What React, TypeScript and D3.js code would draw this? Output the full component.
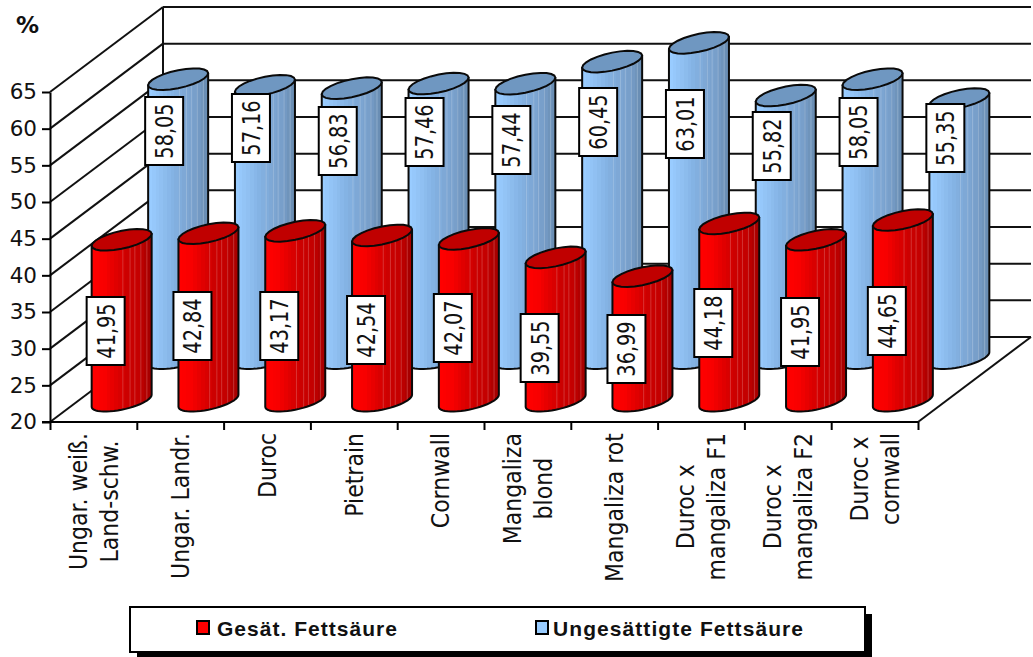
import * as d3 from 'd3'
import { useEffect, useRef } from 'react'

const categories = [
  ['Ungar. weiß.', 'Land-schw.'],
  ['Ungar. Landr.'],
  ['Duroc'],
  ['Pietrain'],
  ['Cornwall'],
  ['Mangaliza', 'blond'],
  ['Mangaliza rot'],
  ['Duroc x', 'mangaliza F1'],
  ['Duroc x', 'mangaliza F2'],
  ['Duroc x', 'cornwall'],
]
const saturated = [41.95, 42.84, 43.17, 42.54, 42.07, 39.55, 36.99, 44.18, 41.95, 44.65]
const unsaturated = [58.05, 57.16, 56.83, 57.46, 57.44, 60.45, 63.01, 55.82, 58.05, 55.35]
const valueTicks = [20, 25, 30, 35, 40, 45, 50, 55, 60, 65]

// labels were dragged by hand in the original, so their heights are not derived from the bars
const redLabelY = [331, 326, 326, 330, 328, 348, 349, 323, 332, 321]
const blueLabelY = [131, 128, 141, 132, 140, 122, 124, 146, 132, 138]

const comma = (v: number) => v.toFixed(2).replace('.', ',')
const FONT = '"DejaVu Sans Condensed", "DejaVu Sans", sans-serif'
const DEPTH_X = 113
const DEPTH_Y = 85

function drawChart(svgEl: SVGSVGElement) {
  const svg = d3.select(svgEl)
  svg.selectAll('*').remove()

  const y = d3.scaleLinear().domain([20, 65]).range([422, 92])
  const x = d3.scaleLinear().domain([0, categories.length]).range([50, 918])
  const step = x(1) - x(0)

  const defs = svg.append('defs')
  const gradient = (id: string, colors: string[]) => {
    const n = 16
    const color = d3.piecewise(d3.interpolateRgb, colors)
    const g = defs.append('linearGradient').attr('id', id)
    d3.range(n).forEach(i => {
      g.append('stop').attr('offset', i / n).attr('stop-color', color(i / (n - 1)))
      g.append('stop').attr('offset', (i + 1) / n).attr('stop-color', color(i / (n - 1)))
    })
  }
  gradient('redBody', ['#ff0000', '#f80000', '#e00000', '#cc0000', '#c40000', '#a80000'])
  gradient('blueBody', ['#99ccff', '#90c0f2', '#84b3e4', '#7ea8d6', '#789fca', '#6a8eb4'])

  // walls and floor
  const walls = svg.append('g').attr('stroke', '#111').attr('stroke-width', 2).attr('fill', 'none')
  valueTicks.forEach(v => {
    const a = y(v)
    walls.append('line').attr('x1', 50).attr('y1', a).attr('x2', 50 + DEPTH_X).attr('y2', a - DEPTH_Y)
    walls.append('line').attr('x1', 50 + DEPTH_X).attr('y1', a - DEPTH_Y)
      .attr('x2', 918 + DEPTH_X).attr('y2', a - DEPTH_Y)
  })
  walls.append('line').attr('x1', 50 + DEPTH_X).attr('y1', y(65) - DEPTH_Y)
    .attr('x2', 50 + DEPTH_X).attr('y2', y(20) - DEPTH_Y)
  walls.append('line').attr('x1', 918).attr('y1', y(20))
    .attr('x2', 918 + DEPTH_X).attr('y2', y(20) - DEPTH_Y)

  // cylinders, back row first
  const halfW = 30
  const slant = 6
  const ry = 9
  const rim = (cx: number, cy: number, from: number, to: number) =>
    d3.range(0, 25).map(i => {
      const t = from + (to - from) * i / 24
      return [cx + halfW * Math.cos(t), cy - slant * Math.cos(t) + ry * Math.sin(t)] as [number, number]
    })

  const drawRow = (values: number[], depth: number, fill: string, topFill: string, name: string) => {
    const row = svg.append('g')
    values.forEach((v, i) => {
      const cx = x(i) + step / 2 + depth * DEPTH_X
      const base = y(20) - depth * DEPTH_Y
      const top = y(v) - depth * DEPTH_Y
      const bodyPts: [number, number][] = [
        [cx + halfW, top - slant],
        [cx - halfW, top + slant],
        ...rim(cx, base, Math.PI, 0),
      ]
      const bodyPath = d3.line()(bodyPts) + 'Z'
      const clipId = name + 'Clip' + i
      defs.append('clipPath').attr('id', clipId).append('path').attr('d', bodyPath)
      const g = row.append('g')
      g.append('path').attr('d', bodyPath).attr('fill', `url(#${fill})`)
      const facets = g.append('g').attr('clip-path', `url(#${clipId})`)
      ;[0.52, 0.64, 0.72, 0.82, 0.92].forEach(f => {
        facets.append('line')
          .attr('x1', cx - halfW + f * 2 * halfW).attr('x2', cx - halfW + f * 2 * halfW)
          .attr('y1', top - 20).attr('y2', base + 20)
          .attr('stroke', '#fff').attr('stroke-opacity', 0.2).attr('stroke-width', 1)
      })
      g.append('path').attr('d', bodyPath).attr('fill', 'none')
        .attr('stroke', '#0a0a0a').attr('stroke-width', 2).attr('stroke-linejoin', 'round')
      g.append('path')
        .attr('d', d3.line()(rim(cx, top, 0, Math.PI * 2)) + 'Z')
        .attr('fill', topFill).attr('stroke', '#0a0a0a').attr('stroke-width', 2)
    })
  }
  drawRow(unsaturated, 0.75, 'blueBody', '#6f97c1', 'blue')
  drawRow(saturated, 0.25, 'redBody', '#c00000', 'red')

  // axes
  const axisY = svg.append('g').attr('transform', 'translate(50,0)')
    .call(d3.axisLeft(y).tickValues(valueTicks).tickSize(8).tickPadding(5).tickSizeOuter(0))
  const axisX = svg.append('g').attr('transform', 'translate(0,422)')
    .call(d3.axisBottom(x).tickValues(d3.range(categories.length + 1)).tickSize(8)
      .tickFormat(() => '').tickSizeOuter(0))
  ;[axisY, axisX].forEach(a => {
    a.selectAll('path, line').attr('stroke', '#000').attr('stroke-width', 2)
    a.selectAll('text').attr('font-family', '"DejaVu Sans", sans-serif').attr('font-size', 21.5).attr('fill', '#111')
  })
  axisX.select('path').attr('d', 'M42,0H918')

  // value labels; the glyphs are stretched across the text line like in the source image
  const drawLabels = (values: number[], labelY: number[], depth: number, shift: number) => {
    values.forEach((v, i) => {
      const cx = x(i) + step / 2 + depth * DEPTH_X + shift
      const g = svg.append('g').attr('transform', `translate(${cx},${labelY[i]})`)
      g.append('rect').attr('x', -19).attr('y', -34).attr('width', 38).attr('height', 68)
        .attr('fill', '#fff').attr('stroke', '#000').attr('stroke-width', 2)
      g.append('text').attr('transform', 'rotate(-90) scale(1,1.15)').attr('text-anchor', 'middle')
        .attr('dy', '0.36em').attr('font-family', FONT).attr('font-size', 21.5).attr('fill', '#111')
        .text(comma(v))
    })
  }
  drawLabels(unsaturated, blueLabelY, 0.75, -14)
  drawLabels(saturated, redLabelY, 0.25, -16)

  // category labels, rotated; each block hangs from the axis and its lines are centred
  categories.forEach((lines, i) => {
    const cx = x(i) + step / 2
    const texts = lines.map(line =>
      svg.append('text')
        .attr('text-anchor', 'middle').attr('dy', '0.36em')
        .attr('font-family', FONT).attr('font-size', 24.5).attr('fill', '#111')
        .text(line))
    const longest = d3.max(texts, t => (t.node() as SVGTextElement).getComputedTextLength()) as number
    const cy = 433 + longest / 2
    texts.forEach((t, k) => {
      const lx = cx + (k - (lines.length - 1) / 2) * 31
      t.attr('transform', `translate(${lx},${cy}) rotate(-90)`)
    })
  })

  svg.append('text').attr('x', 16).attr('y', 33)
    .attr('font-family', '"DejaVu Sans", sans-serif').attr('font-weight', 'bold')
    .attr('font-size', 23).attr('fill', '#111').text('%')

  // legend
  const legend = svg.append('g')
  legend.append('rect').attr('x', 137).attr('y', 614).attr('width', 735).attr('height', 44).attr('fill', '#000')
  legend.append('rect').attr('x', 130).attr('y', 607).attr('width', 735).attr('height', 45)
    .attr('fill', '#fff').attr('stroke', '#000').attr('stroke-width', 2)
  const legendItems = [
    { label: 'Gesät. Fettsäure', color: '#ff0000', sx: 197, tx: 217, len: 180 },
    { label: 'Ungesättigte Fettsäure', color: '#99ccff', sx: 536, tx: 553, len: 250 },
  ]
  legendItems.forEach(d => {
    legend.append('rect').attr('x', d.sx).attr('y', 621).attr('width', 12).attr('height', 13)
      .attr('fill', d.color).attr('stroke', '#000').attr('stroke-width', 2)
    legend.append('text').attr('x', d.tx).attr('y', 636)
      .attr('font-family', '"Liberation Sans", Arial, sans-serif').attr('font-weight', 'bold')
      .attr('font-size', 21).attr('fill', '#111')
      .attr('textLength', d.len).attr('lengthAdjust', 'spacing')
      .text(d.label)
  })
}

export default function App() {
  const ref = useRef<SVGSVGElement>(null)
  useEffect(() => {
    if (ref.current) drawChart(ref.current)
  }, [])
  return (
    <svg
      ref={ref}
      width={1033}
      height={657}
      style={{ position: 'absolute', left: 0, top: 0, background: '#fff' }}
    />
  )
}
